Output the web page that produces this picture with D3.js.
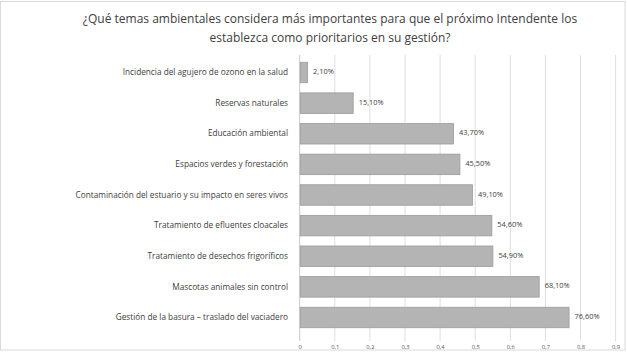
<!DOCTYPE html>
<html>
<head>
<meta charset="utf-8">
<script src="https://cdn.jsdelivr.net/npm/d3@7"></script>
<style>
  body { margin: 0; background: #fff; }
  svg { display: block; }
</style>
</head>
<body>
<div id="chart"></div>
<script>
"use strict";

// Data
var categories = [
  "Incidencia del agujero de ozono en la salud",
  "Reservas naturales",
  "Educación ambiental",
  "Espacios verdes y forestación",
  "Contaminación del estuario y su impacto en seres vivos",
  "Tratamiento de efluentes cloacales",
  "Tratamiento de desechos frigoríficos",
  "Mascotas animales sin control",
  "Gestión de la basura – traslado del vaciadero"
];
var values = [0.021, 0.151, 0.437, 0.455, 0.491, 0.546, 0.549, 0.681, 0.766];
var valueLabels = ["2,10%", "15,10%", "43,70%", "45,50%", "49,10%", "54,60%", "54,90%", "68,10%", "76,60%"];
var tickValues = [0, 0.1, 0.2, 0.3, 0.4, 0.5, 0.6, 0.7, 0.8, 0.9];
var tickLabels = ["0", "0,1", "0,2", "0,3", "0,4", "0,5", "0,6", "0,7", "0,8", "0,9"];
var titleLines = [
  "¿Qué temas ambientales considera más importantes para que el próximo Intendente los",
  "establezca como prioritarios en su gestión?"
];

var W = 627, H = 352;
var font = "'Open Sans', sans-serif";

var svg = d3.select("#chart")
            .append("svg")
            .attr("width", W)
            .attr("height", H);

// outer frame
svg.append("rect")
   .attr("x", 0.5).attr("y", 1.5)
   .attr("width", 624.5).attr("height", 348.5)
   .attr("fill", "#fff")
   .attr("stroke", "#d9d9d9");

// title
svg.selectAll("text.title")
   .data(titleLines)
   .enter()
   .append("text")
   .attr("class", "title")
   .attr("x", 330)
   .attr("y", function (d, i) { return 23 + i * 19; })
   .attr("text-anchor", "middle")
   .attr("font-family", font)
   .attr("font-size", 12)
   .attr("fill", "#404040")
   .text(function (d) { return d; });

// scales
var x = d3.scaleLinear()
          .domain([0, 0.9])
          .range([299.7, 615.6]);

var y = d3.scaleBand()
          .domain(categories)
          .range([57.2, 332.8])
          .paddingInner(0.33)
          .paddingOuter(0.165);

// gridlines
svg.append("g")
   .selectAll("line")
   .data(tickValues)
   .enter()
   .append("line")
   .attr("x1", function (d) { return x(d); })
   .attr("x2", function (d) { return x(d); })
   .attr("y1", 55)
   .attr("y2", 341)
   .attr("stroke", function (d) { return d === 0 ? "#c8c8c8" : "#dedede"; })
   .attr("stroke-width", 1);

// x axis tick labels
var xAxis = d3.axisBottom(x)
              .tickValues(tickValues)
              .tickFormat(function (d, i) { return tickLabels[i]; })
              .tickSize(0);
var gx = svg.append("g")
            .attr("transform", "translate(0,341)")
            .call(xAxis);
gx.select(".domain").remove();
gx.selectAll("text")
  .attr("font-family", font)
  .attr("font-size", 5.8)
  .attr("fill", "#595959")
  .attr("dy", "0.9em");

// category labels
var yAxis = d3.axisLeft(y).tickSize(0).tickPadding(0);
var gy = svg.append("g")
            .attr("transform", "translate(288,0)")
            .call(yAxis);
gy.select(".domain").remove();
gy.selectAll("text")
  .attr("font-family", font)
  .attr("font-size", 8.25)
  .attr("fill", "#404040");

// bars
svg.selectAll("rect.bar")
   .data(values)
   .enter()
   .append("rect")
   .attr("class", "bar")
   .attr("x", x(0) + 0.5)
   .attr("y", function (d, i) { return y(categories[i]); })
   .attr("width", function (d) { return x(d) - x(0); })
   .attr("height", y.bandwidth())
   .attr("fill", "#b4b4b4")
   .attr("stroke", "#9b9b9b")
   .attr("stroke-width", 0.8);

// value labels
svg.selectAll("text.val")
   .data(values)
   .enter()
   .append("text")
   .attr("class", "val")
   .attr("x", function (d) { return x(d) + 6; })
   .attr("y", function (d, i) { return y(categories[i]) + y.bandwidth() / 2 - 1; })
   .attr("dy", "0.35em")
   .attr("font-family", font)
   .attr("font-size", 7.4)
   .attr("fill", "#404040")
   .text(function (d, i) { return valueLabels[i]; });
</script>
</body>
</html>
